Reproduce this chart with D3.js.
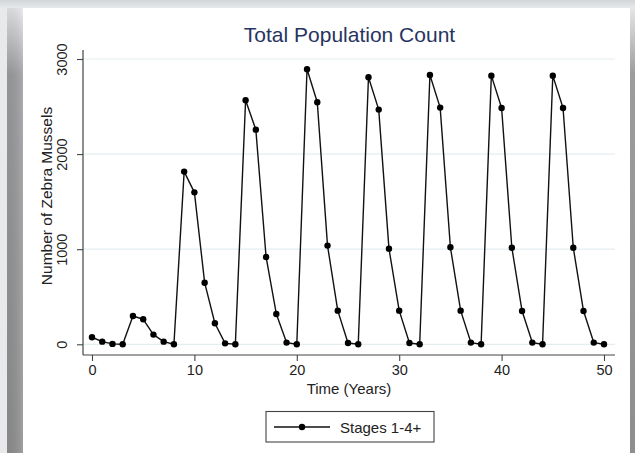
<!DOCTYPE html>
<html><head><meta charset="utf-8">
<script src="https://cdn.jsdelivr.net/npm/d3@7/dist/d3.min.js"></script>
<style>html,body{margin:0;padding:0;background:#fff;}svg{display:block;font-family:"Liberation Sans",Arial,Helvetica,sans-serif;}</style>
</head><body>
<script>
const years = d3.range(0, 51);
const population = [74,28,4,0,298,263,102,28,0,1816,1598,648,221,10,0,2566,2257,918,319,18,0,2892,2545,1038,354,14,0,2808,2468,1006,354,14,0,2832,2489,1020,354,18,0,2825,2485,1016,350,18,0,2825,2485,1016,350,18,0];
const xTicks = [0,10,20,30,40,50];
const yTicks = [0,1000,2000,3000];
const seriesName = "Stages 1-4+";

const W = 635, H = 453;
const svg = d3.select("body").append("svg").attr("width", W).attr("height", H);
const defs = svg.append("defs");
const gl = defs.append("linearGradient").attr("id","gLeft").attr("x1",0).attr("x2",0).attr("y1",0).attr("y2",1);
gl.append("stop").attr("offset","0").attr("stop-color","#e4e6e8");
gl.append("stop").attr("offset","0.15").attr("stop-color","#9a9c9e");
gl.append("stop").attr("offset","1").attr("stop-color","#8e8e8e");
const gh = defs.append("linearGradient").attr("id","gLeftH").attr("x1",0).attr("x2",1).attr("y1",0).attr("y2",0);
gh.append("stop").attr("offset","0").attr("stop-color","#000").attr("stop-opacity",0.05);
gh.append("stop").attr("offset","1").attr("stop-color","#fff").attr("stop-opacity",0.15);
const gt = defs.append("linearGradient").attr("id","gTop").attr("x1",0).attr("x2",0).attr("y1",0).attr("y2",1);
gt.append("stop").attr("offset","0").attr("stop-color","#d3d6d9");
gt.append("stop").attr("offset","1").attr("stop-color","#e6e8ea");

// frame
svg.append("rect").attr("x",0).attr("y",0).attr("width",W).attr("height",H).attr("fill","#e8e9ea");
svg.append("rect").attr("x",0).attr("y",0).attr("width",W).attr("height",8).attr("fill","url(#gTop)");
svg.append("rect").attr("x",7).attr("y",8).attr("width",16).attr("height",H-8).attr("fill","url(#gLeft)");
svg.append("rect").attr("x",7).attr("y",8).attr("width",16).attr("height",H-8).attr("fill","url(#gLeftH)");
svg.append("rect").attr("x",630).attr("y",8).attr("width",5).attr("height",H-8).attr("fill","url(#gLeft)");
svg.append("rect").attr("x",23).attr("y",8).attr("width",607).attr("height",H-8).attr("fill","#ffffff");

const x = d3.scaleLinear().domain([0,50]).range([92,604]);
const y = d3.scaleLinear().domain([0,3000]).range([344.3,59]);
const plotL = 83, plotR = 615, plotT = 50, plotB = 355;

// gridlines
svg.append("g").selectAll("line").data(yTicks).join("line")
  .attr("x1",plotL).attr("x2",plotR).attr("y1",d=>y(d)).attr("y2",d=>y(d))
  .attr("stroke","#e4edf0").attr("stroke-width",1.2);

// axes lines
svg.append("line").attr("x1",plotL).attr("x2",plotL).attr("y1",plotT).attr("y2",plotB).attr("stroke","#444").attr("stroke-width",1.2);
svg.append("line").attr("x1",plotL).attr("x2",plotR).attr("y1",plotB).attr("y2",plotB).attr("stroke","#444").attr("stroke-width",1.2);

// x axis
const xa = svg.append("g").attr("transform",`translate(0,${plotB})`)
  .call(d3.axisBottom(x).tickValues(xTicks).tickSize(6).tickSizeOuter(0).tickFormat(d3.format("d")));
xa.select(".domain").remove();
xa.selectAll(".tick line").attr("stroke","#444").attr("stroke-width",1.1);
xa.selectAll(".tick text").attr("font-size",14.5).attr("fill","#222").attr("font-family","Liberation Sans, Arial, sans-serif")
  .attr("dy",null).attr("y",20);

// y axis
const ya = svg.append("g").attr("transform",`translate(${plotL},0)`)
  .call(d3.axisLeft(y).tickValues(yTicks).tickSize(6).tickSizeOuter(0).tickFormat(d3.format("d")));
ya.select(".domain").remove();
ya.selectAll(".tick line").attr("stroke","#444").attr("stroke-width",1.1);
ya.selectAll(".tick text").attr("font-size",14.5).attr("fill","#222").attr("font-family","Liberation Sans, Arial, sans-serif")
  .attr("x",null).attr("dy",null).attr("text-anchor","middle")
  .attr("transform","translate(-16,0) rotate(-90)");

// line + markers
const line = d3.line().x((d,i)=>x(years[i])).y(d=>y(d));
svg.append("path").datum(population).attr("d",line).attr("fill","none").attr("stroke","#111").attr("stroke-width",1.4).attr("stroke-linejoin","round");
svg.append("g").selectAll("circle").data(population).join("circle")
  .attr("cx",(d,i)=>x(years[i])).attr("cy",d=>y(d)).attr("r",3.2).attr("fill","#000");

// titles
svg.append("text").attr("x",349.5).attr("y",41.5).attr("text-anchor","middle").attr("font-size",21).attr("fill","#27345f").text("Total Population Count");
svg.append("text").attr("x",349).attr("y",394).attr("text-anchor","middle").attr("font-size",15).attr("fill","#222").text("Time (Years)");
svg.append("text").attr("transform","translate(52,196) rotate(-90)").attr("text-anchor","middle").attr("font-size",15.5).attr("fill","#222").text("Number of Zebra Mussels");

// legend
const lg = svg.append("g");
lg.append("rect").attr("x",266).attr("y",411.5).attr("width",168).attr("height",30.5).attr("fill","#fff").attr("stroke","#444").attr("stroke-width",1.1);
lg.append("line").attr("x1",274).attr("x2",330).attr("y1",427).attr("y2",427).attr("stroke","#111").attr("stroke-width",1.4);
lg.append("circle").attr("cx",302).attr("cy",427).attr("r",3.2).attr("fill","#000");
lg.append("text").attr("x",340).attr("y",432.5).attr("font-size",15).attr("fill","#222").text(seriesName);
</script>
</body></html>
